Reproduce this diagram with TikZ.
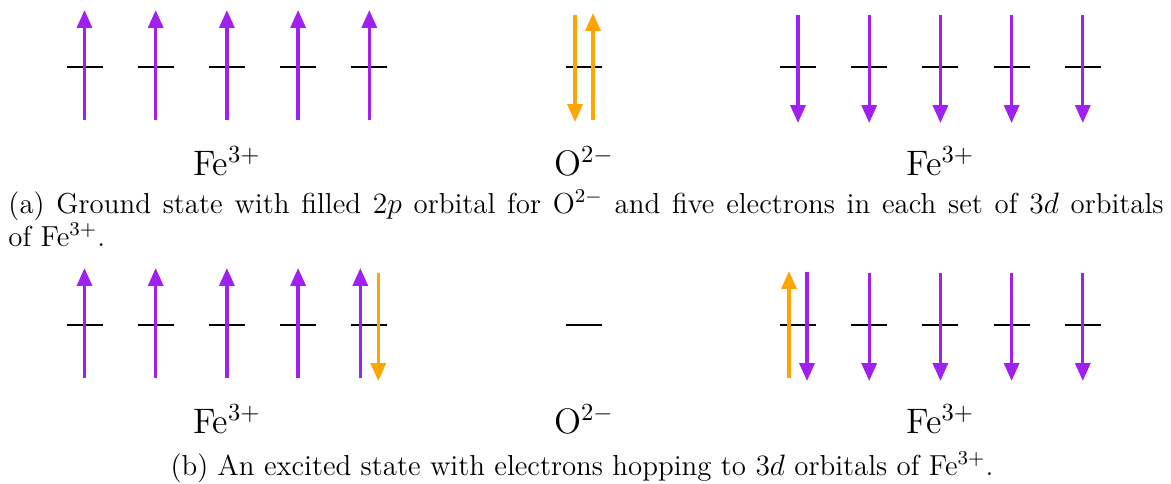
\documentclass[tikz,border=0pt]{standalone}
\usepackage{amsmath}
\usetikzlibrary{arrows.meta,positioning,calc}
\definecolor{spinpurple}{HTML}{A020F0}
\definecolor{spinorange}{HTML}{FFA500}
\tikzset{
  level/.style={black,line width=1.1pt},
  spin/.style={line width=1.35pt,-{Triangle[width=6.1pt,length=7.3pt]}},
  ion/.style={font=\Large,anchor=base,inner sep=0pt},
  capt/.style={font=\fontsize{11.75}{11.55}\selectfont,inner sep=0pt},
}
\begin{document}
\begin{tikzpicture}[x=0.4067pt,y=-0.4067pt]
\useasboundingbox (0,0) rectangle (1171,483);
% energy levels, ground row g and excited row e
\foreach \row/\y in {g/67,e/325}{
  \foreach \i in {0,...,4}{
    \coordinate (\row L\i) at (84.5+71.2*\i,\y);
    \coordinate (\row R\i) at (798+71.2*\i,\y);
    \draw[level] ($(\row L\i)+(-18,0)$) -- ($(\row L\i)+(18,0)$);
    \draw[level] ($(\row R\i)+(-18,0)$) -- ($(\row R\i)+(18,0)$);
  }
  \coordinate (\row O) at (584,\y);
  \draw[level] ($(\row O)+(-18,0)$) -- ($(\row O)+(18,0)$);
  \node[ion] (\row feL) at ($(\row L2)+(0,108)$) {Fe$^{3+}$};
  \node[ion] (\row ox) at ($(\row O)+(0,108)$) {O$^{2-}$};
  \node[ion] (\row feR) at ($(\row R2)+(0,108)$) {Fe$^{3+}$};
}
% ground state
\foreach \i in {0,...,4}{
  \draw[spin,spinpurple] ($(gL\i)+(0,53)$) -- ($(gL\i)+(0,-57)$);
  \draw[spin,spinpurple] ($(gR\i)+(0,-52)$) -- ($(gR\i)+(0,56)$);
}
\draw[spin,spinorange] ($(gO)+(-9,-52)$) -- ($(gO)+(-9,55)$);
\draw[spin,spinorange] ($(gO)+(9,53)$) -- ($(gO)+(9,-54)$);
\node[capt,anchor=base west,text width=469.75pt,align=justify] (capa) at (8,213.3)
  {(a) Ground state with filled $2p$ orbital for O$^{2-}$ and five electrons in each set of $3d$ orbitals\linebreak of Fe$^{3+}$.};
% excited state
\foreach \i in {0,...,3}{
  \draw[spin,spinpurple] ($(eL\i)+(0,53)$) -- ($(eL\i)+(0,-57)$);
}
\draw[spin,spinpurple] ($(eL4)+(-9,53)$) -- ($(eL4)+(-9,-57)$);
\draw[spin,spinorange] ($(eL4)+(9,-52)$) -- ($(eL4)+(9,56)$);
\draw[spin,spinorange] ($(eR0)+(-9,53)$) -- ($(eR0)+(-9,-54)$);
\draw[spin,spinpurple] ($(eR0)+(9,-53)$) -- ($(eR0)+(9,56)$);
\foreach \i in {1,...,4}{
  \draw[spin,spinpurple] ($(eR\i)+(0,-52)$) -- ($(eR\i)+(0,56)$);
}
\node[capt,anchor=base] (capb) at (582,475)
  {(b) An excited state with electrons hopping to $3d$ orbitals of Fe$^{3+}$.};
\end{tikzpicture}
\end{document}
